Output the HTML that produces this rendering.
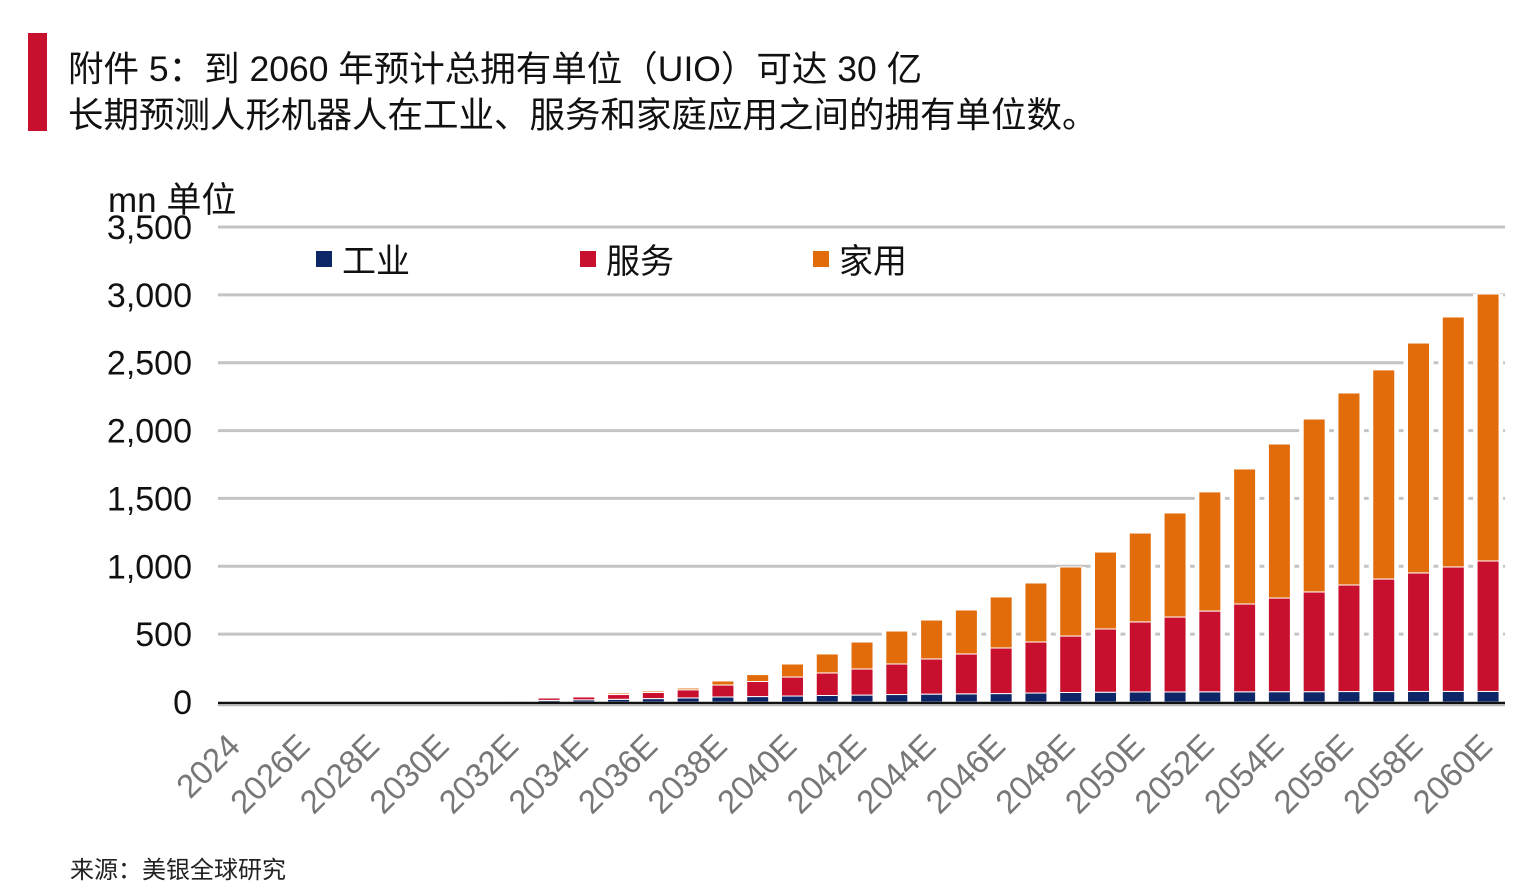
<!DOCTYPE html>
<html><head><meta charset="utf-8"><style>
body{margin:0;background:#fff;width:1528px;height:886px;overflow:hidden;font-family:"Liberation Sans","Noto Sans CJK SC",sans-serif;}
</style></head><body>
<svg width="1528" height="886" xmlns="http://www.w3.org/2000/svg" style="font-family:'Liberation Sans','Noto Sans CJK SC',sans-serif">
<rect x="28" y="33" width="19" height="98" fill="#c8102e"/>
<text x="68" y="81" font-size="35.5" fill="#111">附件 5：到 2060 年预计总拥有单位（UIO）可达 30 亿</text>
<text x="68" y="127" font-size="35.5" fill="#111">长期预测人形机器人在工业、服务和家庭应用之间的拥有单位数。</text>
<text x="108" y="212" font-size="35" fill="#111">mn 单位</text>
<g id="grid"></g>
<g id="bars"></g>
<g id="axes"></g>
<g>
<rect x="316" y="251" width="16" height="16" fill="#0c2668"/>
<text x="342" y="273" font-size="34" fill="#111">工业</text>
<rect x="580" y="251" width="16" height="16" fill="#c8102e"/>
<text x="606" y="273" font-size="34" fill="#111">服务</text>
<rect x="813" y="251" width="16" height="16" fill="#e36c0a"/>
<text x="839" y="273" font-size="34" fill="#111">家用</text>
</g>
<text x="70" y="878" font-size="24" fill="#222">来源：美银全球研究</text>
</svg>
<script>
const years=[2024,2025,2026,2027,2028,2029,2030,2031,2032,2033,2034,2035,2036,2037,2038,2039,2040,2041,2042,2043,2044,2045,2046,2047,2048,2049,2050,2051,2052,2053,2054,2055,2056,2057,2058,2059,2060];
const industrial=[0,0,1,1,2,3,4,6,8,12,16,20,25,30,37,40,44,48,51,55,58,60,62,66,70,72,74,74,75,75,76,76,77,77,78,78,78];
const service=[0,0,0,0,1,2,3,4,6,18,22,35,45,60,88,111,140,166,192,225,259,294,336,376,416,466,516,552,595,647,690,735,785,829,873,917,961];
const home=[0,0,0,0,0,0,0,0,0,7,6,11,11,13,30,51,96,140,199,243,287,324,376,435,509,567,655,767,878,995,1135,1274,1415,1541,1694,1842,1967];
const yTicks=[0,500,1000,1500,2000,2500,3000,3500];
const yTickLabels=["0","500","1,000","1,500","2,000","2,500","3,000","3,500"];
const NS="http://www.w3.org/2000/svg";
const y0=702, yMax=3500, yTop=227, x0=236, step=34.78, bw=22;
const y=v=>y0-(v/yMax)*(y0-yTop);
const x=i=>x0+i*step;
function mk(t,a,p){const e=document.createElementNS(NS,t);for(const k in a)e.setAttribute(k,a[k]);p.appendChild(e);return e;}
const grid=document.getElementById('grid'),bars=document.getElementById('bars'),axes=document.getElementById('axes');
yTicks.forEach((v,i)=>{
 if(v>0){const l=mk('line',{x1:218,x2:1505,y1:y(v),y2:y(v),stroke:'#c4c4c4','stroke-width':3},grid);
 
 }
 const t=mk('text',{x:192,y:y(v)+12,'font-size':34,'text-anchor':'end',fill:'#111'},axes);t.textContent=yTickLabels[i];
 
 
});
years.forEach((yr,i)=>{
 const cx=x(i),tot=industrial[i]+service[i]+home[i];
 if(tot>0){const bg=mk('rect',{x:cx-bw/2-4,y:y(tot),width:bw+8,height:y0-y(tot),fill:'#fff'},bars);
 
 }
 const segs=[[industrial[i],'#0c2668','industrial'],[service[i],'#c8102e','service'],[home[i],'#e36c0a','home']];
 let base=0;
 segs.forEach(s=>{
  if(s[0]<=0)return;
  const r=mk('rect',{x:cx-bw/2,y:y(base+s[0]),width:bw,height:y(base)-y(base+s[0]),fill:s[1],stroke:'#fff','stroke-width':1},bars);
  
  
  base+=s[0];
 });
 if(i%2===0){
  const lab=i===0?String(yr):yr+'E';
  const lx=cx+6, ly=748;
  const t=mk('text',{x:lx,y:ly,'font-size':33,'text-anchor':'end',fill:'#777',transform:`rotate(-45 ${lx} ${ly})`},axes);
  t.textContent=lab;
  
  
 }
});
const bl=mk('line',{x1:218,x2:1505,y1:y0+1,y2:y0+1,stroke:'#111','stroke-width':2.5},axes);


const bl2=mk('line',{x1:218,x2:1505,y1:y0+3.5,y2:y0+3.5,stroke:'#bbb','stroke-width':1.5},axes);


</script>
</body></html>
